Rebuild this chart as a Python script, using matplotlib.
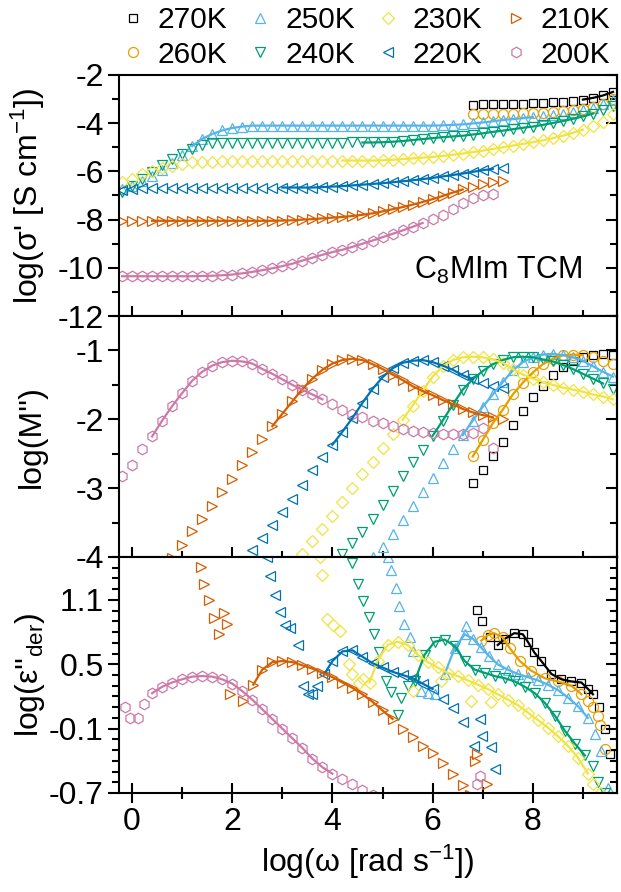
import numpy as np
import matplotlib
matplotlib.use("Agg")
import matplotlib.pyplot as plt
from matplotlib.ticker import MultipleLocator, FixedLocator
from matplotlib.lines import Line2D

plt.rcParams['font.family'] = ['Liberation Sans', 'DejaVu Sans']
plt.rcParams['mathtext.fontset'] = 'custom'
plt.rcParams['mathtext.rm'] = 'Liberation Sans'
plt.rcParams['mathtext.it'] = 'Liberation Sans:italic'
plt.rcParams['axes.unicode_minus'] = False

temps = ['270K', '260K', '250K', '240K', '230K', '220K', '210K', '200K']
colors = ['#000000', '#E69F00', '#56B4E9', '#009E73', '#F0E442', '#0072B2', '#D55E00', '#CC79A7']
markers = ['s', 'o', '^', 'v', 'D', '<', '>', 'h']
msizes = [6.0, 7.2, 7.4, 7.4, 6.6, 7.4, 7.4, 7.6]

# common log(omega) grid of the measurement
GRID = [-0.2, 0.0, 0.2, 0.4, 0.6, 0.8, 1.0, 1.2, 1.4, 1.6,
        1.8, 2.0, 2.2, 2.4, 2.6, 2.8, 3.0, 3.2, 3.4, 3.6,
        3.8, 4.0, 4.2, 4.4, 4.6, 4.8, 5.0, 5.2, 5.4, 5.6,
        5.8, 6.0, 6.2, 6.4, 6.6, 6.8, 7.0, 7.2, 7.4, 7.6,
        7.8, 8.0, 8.2, 8.4, 8.6, 8.8, 9.0, 9.2, 9.4, 9.6]

# ---- conductivity log(sigma') : (start on grid, values)
sig_270 = (6.8, [-3.23, -3.22, -3.21, -3.2, -3.2, -3.19, -3.18, -3.16, -3.13, -3.1, -3.06, -3.02, -2.95, -2.85, -2.7])
sig_260 = (6.8, [-3.62, -3.62, -3.61, -3.61, -3.6, -3.59, -3.58, -3.56, -3.53, -3.49, -3.45, -3.4, -3.32, -3.2, -3.0])
sig_250 = (-0.2, [-6.75, -6.6, -6.4, -6.18, -5.95, -5.65, -5.3, -4.95, -4.65, -4.45,
                  -4.3, -4.2, -4.14, -4.1, -4.1, -4.1, -4.1, -4.1, -4.1, -4.1,
                  -4.1, -4.1, -4.1, -4.1, -4.1, -4.1, -4.1, -4.1, -4.1, -4.1,
                  -4.1, -4.1, -4.09, -4.07, -4.05, -4.01, -3.97, -3.92, -3.87, -3.83,
                  -3.79, -3.75, -3.71, -3.66, -3.6, -3.53, -3.45, -3.35, -3.22, -3.05])
sig_240 = (-0.2, [-6.87, -6.6, -6.3, -6.02, -5.75, -5.5, -5.27, -5.05, -4.9, -4.82,
                  -4.82, -4.83, -4.83, -4.83, -4.83, -4.83, -4.83, -4.83, -4.83, -4.83,
                  -4.83, -4.82, -4.81, -4.8, -4.8, -4.8, -4.79, -4.77, -4.74, -4.7,
                  -4.66, -4.62, -4.58, -4.55, -4.52, -4.47, -4.42, -4.36, -4.31, -4.25,
                  -4.19, -4.14, -4.07, -3.99, -3.91, -3.82, -3.72, -3.6, -3.47, -3.3])
sig_230 = (-0.2, [-6.45, -6.3, -6.12, -5.98, -5.86, -5.76, -5.68, -5.63, -5.6, -5.59,
                  -5.58, -5.57, -5.57, -5.57, -5.57, -5.57, -5.57, -5.57, -5.57, -5.57,
                  -5.56, -5.55, -5.55, -5.55, -5.55, -5.55, -5.54, -5.52, -5.49, -5.46,
                  -5.43, -5.4, -5.36, -5.31, -5.26, -5.2, -5.14, -5.07, -5.0, -4.93,
                  -4.86, -4.79, -4.71, -4.62, -4.52, -4.4, -4.27, -4.12, -3.93, -3.6])
sig_220 = (-0.2, [-6.78, -6.72, -6.68, -6.67, -6.67, -6.67, -6.67, -6.67, -6.67, -6.67,
                  -6.67, -6.67, -6.67, -6.67, -6.67, -6.67, -6.67, -6.67, -6.67, -6.67,
                  -6.65, -6.63, -6.61, -6.58, -6.55, -6.52, -6.49, -6.45, -6.41, -6.37,
                  -6.32, -6.27, -6.21, -6.15, -6.09, -6.02, -5.95, -5.9, -5.86])
sig_210 = (-0.2, [-8.06, -8.06, -8.05, -8.05, -8.05, -8.05, -8.05, -8.05, -8.05, -8.05,
                  -8.05, -8.05, -8.05, -8.05, -8.05, -8.05, -8.04, -8.03, -8.0, -7.98,
                  -7.95, -7.92, -7.89, -7.85, -7.8, -7.74, -7.66, -7.57, -7.48, -7.38,
                  -7.27, -7.15, -7.02, -6.88, -6.75, -6.63, -6.52, -6.44, -6.38])
sig_200 = (-0.2, [-10.35, -10.35, -10.35, -10.35, -10.35, -10.35, -10.35, -10.35, -10.34, -10.33,
                  -10.31, -10.28, -10.23, -10.17, -10.1, -10.02, -9.93, -9.83, -9.7, -9.58,
                  -9.46, -9.35, -9.25, -9.13, -9.0, -8.87, -8.73, -8.59, -8.45, -8.3,
                  -8.14, -7.98, -7.8, -7.55, -7.33, -7.12, -6.98, -6.93])
sigma = [sig_270, sig_260, sig_250, sig_240, sig_230, sig_220, sig_210, sig_200]
sig_fit = [(9.0, 9.6), None, (1.2, 8.0), (4.6, 9.2), (4.2, 9.0), (3.0, 7.2), (0.4, 6.6), (-0.2, 5.8)]

# ---- modulus log(M'')
mod_270 = (6.8, [-2.93, -2.74, -2.53, -2.33, -2.09, -1.88, -1.68, -1.51, -1.36, -1.24, -1.15, -1.09, -1.06, -1.05, -1.06])
mod_260 = (6.8, [-2.54, -2.3, -2.06, -1.86, -1.64, -1.47, -1.32, -1.2, -1.12, -1.07, -1.06, -1.07, -1.1, -1.15, -1.2])
mod_250 = (4.8, [-4.0, -3.85, -3.66, -3.46, -3.26, -3.06, -2.85, -2.64, -2.43, -2.23,
                 -2.02, -1.82, -1.64, -1.46, -1.29, -1.17, -1.1, -1.06, -1.05, -1.07,
                 -1.1, -1.15, -1.23, -1.31, -1.38])
mod_240 = (4.2, [-3.95, -3.8, -3.64, -3.45, -3.25, -3.04, -2.82, -2.62, -2.44, -2.24,
                 -2.02, -1.79, -1.57, -1.42, -1.3, -1.2, -1.14, -1.1, -1.09, -1.1,
                 -1.13, -1.16, -1.21, -1.27, -1.34, -1.41, -1.48, -1.56])
mod_230 = (3.2, [-4.12, -3.95, -3.77, -3.59, -3.4, -3.2, -3.0, -2.8, -2.62, -2.42,
                 -2.21, -2.01, -1.8, -1.59, -1.38, -1.23, -1.14, -1.1, -1.09, -1.1,
                 -1.13, -1.18, -1.27, -1.35, -1.41, -1.46, -1.5, -1.54, -1.57, -1.6,
                 -1.64, -1.67, -1.71])
mod_220 = (2.2, [-4.08, -3.9, -3.72, -3.53, -3.35, -3.16, -2.96, -2.74, -2.55, -2.37,
                 -2.18, -1.98, -1.76, -1.56, -1.39, -1.26, -1.18, -1.15, -1.14, -1.17,
                 -1.22, -1.28, -1.36, -1.42, -1.47, -1.52, -1.55])
mod_210 = (0.8, [-4.02, -3.83, -3.62, -3.45, -3.26, -3.06, -2.86, -2.66, -2.47, -2.28,
                 -2.1, -1.92, -1.74, -1.56, -1.41, -1.28, -1.19, -1.14, -1.12, -1.14,
                 -1.2, -1.27, -1.35, -1.43, -1.52, -1.59, -1.65, -1.72, -1.78, -1.85,
                 -1.9, -1.94, -1.97, -1.99])
mod_200 = (-0.2, [-2.83, -2.66, -2.43, -2.25, -2.02, -1.81, -1.62, -1.44, -1.31, -1.22,
                  -1.17, -1.15, -1.16, -1.19, -1.27, -1.34, -1.42, -1.5, -1.57, -1.64,
                  -1.71, -1.78, -1.86, -1.92, -1.96, -2.02, -2.06, -2.1, -2.14, -2.17,
                  -2.19, -2.2, -2.21, -2.22, -2.22, -2.2, -2.13, -2.42])
modulus = [mod_270, mod_260, mod_250, mod_240, mod_230, mod_220, mod_210, mod_200]
mod_fit = [None, (6.8, 9.0), (6.6, 9.6), (6.0, 9.4), (5.4, 9.6), (4.0, 6.8), (2.8, 7.2), (0.4, 3.8)]

# ---- derivative loss log(eps''_der): main relaxation curve
der_x_270 = [6.89, 6.99, 7.15, 7.3, 7.45, 7.63, 7.8, 7.9, 8.03, 8.17, 8.37, 8.57, 8.77, 8.97, 9.1, 9.2, 9.33, 9.44, 9.54]
der_y_270 = [1.01, 0.9, 0.75, 0.68, 0.74, 0.79, 0.78, 0.71, 0.61, 0.53, 0.41, 0.36, 0.34, 0.33, 0.27, 0.22, 0.1, -0.1, -0.34]
der_x_260 = [6.97, 7.1, 7.23, 7.4, 7.54, 7.74, 7.97, 8.24, 8.5, 8.77, 8.97, 9.1, 9.2, 9.3, 9.34, 9.44]
der_y_260 = [0.72, 0.77, 0.79, 0.75, 0.65, 0.53, 0.44, 0.37, 0.34, 0.3, 0.22, 0.16, 0.1, 0.02, -0.07, -0.29]
der_x_250 = [6.24, 6.44, 6.64, 6.8, 6.96, 7.12, 7.3, 7.5, 7.7, 7.9, 8.1, 8.3, 8.5, 8.7, 8.9, 9.1, 9.24, 9.37, 9.5]
der_y_250 = [0.41, 0.65, 0.78, 0.74, 0.66, 0.58, 0.5, 0.45, 0.41, 0.38, 0.35, 0.31, 0.26, 0.19, 0.11, 0.0, -0.15, -0.31, -0.65]
der_x_240 = [5.64, 5.84, 6.04, 6.24, 6.44, 6.64, 6.84, 7.04, 7.24, 7.44, 7.64, 7.84, 8.04, 8.24, 8.44, 8.64, 8.84, 9.04, 9.2, 9.3, 9.45]
der_y_240 = [0.34, 0.59, 0.71, 0.73, 0.67, 0.53, 0.45, 0.42, 0.39, 0.37, 0.34, 0.29, 0.23, 0.14, 0.02, -0.12, -0.24, -0.35, -0.45, -0.6, -0.7]
der_x_230 = [4.74, 4.9, 5.1, 5.3, 5.5, 5.7, 5.9, 6.1, 6.3, 6.5, 6.7, 6.9, 7.1, 7.3, 7.5, 7.7, 7.9, 8.1, 8.3, 8.5, 8.7, 8.9, 9.1, 9.2, 9.35]
der_y_230 = [0.33, 0.53, 0.68, 0.71, 0.68, 0.59, 0.52, 0.47, 0.42, 0.39, 0.35, 0.31, 0.27, 0.22, 0.17, 0.12, 0.05, -0.02, -0.09, -0.17, -0.26, -0.37, -0.52, -0.62, -0.7]
der_x_220 = [3.84, 4.0, 4.2, 4.4, 4.6, 4.8, 5.0, 5.2, 5.4, 5.6, 5.8, 6.0, 6.2, 6.4, 6.6]
der_y_220 = [0.41, 0.53, 0.62, 0.63, 0.57, 0.51, 0.47, 0.43, 0.4, 0.37, 0.32, 0.27, 0.18, 0.09, -0.04]
der_x_210 = [2.42, 2.6, 2.8, 3.0, 3.2, 3.4, 3.6, 3.8, 4.0, 4.2, 4.4, 4.6, 4.8, 5.0, 5.2, 5.4, 5.6, 5.8, 6.0, 6.2, 6.4, 6.6, 6.75]
der_y_210 = [0.31, 0.45, 0.52, 0.53, 0.52, 0.49, 0.46, 0.42, 0.38, 0.33, 0.28, 0.22, 0.15, 0.07, -0.01, -0.1, -0.18, -0.26, -0.33, -0.42, -0.52, -0.63, -0.72]
der_x_200 = [0.4, 0.6, 0.8, 1.0, 1.2, 1.4, 1.6, 1.8, 2.0, 2.2, 2.4, 2.6, 2.8, 3.0, 3.2, 3.4, 3.6, 3.8, 4.0, 4.2, 4.4, 4.6, 4.8]
der_y_200 = [0.23, 0.29, 0.33, 0.36, 0.385, 0.39, 0.385, 0.36, 0.32, 0.25, 0.17, 0.08, -0.01, -0.1, -0.19, -0.28, -0.38, -0.46, -0.52, -0.57, -0.62, -0.67, -0.72]
# scattered points off the main curve (electrode / conductivity region)
sc_x_270, sc_y_270 = [], []
sc_x_260, sc_y_260 = [], []
sc_x_250 = [5.1, 5.17, 5.27, 5.33, 5.43, 5.54, 5.6, 5.77, 5.9, 6.05, 6.67]
sc_y_250 = [1.5, 1.38, 1.21, 1.04, 0.88, 0.75, 0.62, 0.25, 0.23, 0.22, 0.86]
sc_x_240 = [4.4, 4.51, 4.61, 4.72, 4.82, 4.92, 5.07, 5.17, 5.3, 5.37, 5.5]
sc_y_240 = [1.44, 1.25, 1.09, 0.94, 0.78, 0.61, 0.34, 0.24, 0.03, 0.19, 0.3]
sc_x_230 = [3.75, 3.79, 3.89, 4.02, 4.15, 4.34, 4.4, 4.54, 4.62, 5.6, 6.17, 6.77, 7.17]
sc_y_230 = [1.5, 1.33, 0.92, 0.87, 0.81, 0.5, 0.41, 0.33, 0.36, 0.25, 0.34, 0.16, 0.15]
sc_x_220 = [2.7, 2.76, 2.86, 2.96, 3.06, 3.16, 3.31, 3.41, 3.51, 3.6, 3.7, 6.95, 6.99, 6.82, 7.16, 7.24]
sc_y_220 = [1.5, 1.32, 1.15, 0.99, 0.87, 0.84, 0.68, 0.3, 0.22, 0.22, 0.3, -0.01, -0.17, -0.26, -0.27, -0.48]
sc_x_210 = [1.37, 1.43, 1.53, 1.63, 1.83, 1.9, 1.73, 1.96, 2.22, 6.85, 6.89, 7.08]
sc_y_210 = [1.41, 1.25, 1.1, 0.93, 0.98, 0.88, 0.78, 0.22, 0.16, -0.4, -0.34, -0.62]
sc_x_200 = [-0.14, -0.04, 0.12, 0.23, 6.89, 6.95]
sc_y_200 = [0.1, 0.0, 0.0, 0.13, -0.62, -0.54]

der_x = [der_x_270, der_x_260, der_x_250, der_x_240, der_x_230, der_x_220, der_x_210, der_x_200]
der_y = [der_y_270, der_y_260, der_y_250, der_y_240, der_y_230, der_y_220, der_y_210, der_y_200]
sc_x = [sc_x_270, sc_x_260, sc_x_250, sc_x_240, sc_x_230, sc_x_220, sc_x_210, sc_x_200]
sc_y = [sc_y_270, sc_y_260, sc_y_250, sc_y_240, sc_y_230, sc_y_220, sc_y_210, sc_y_200]
der_fit = [(7.3, 9.2), (6.97, 9.0), (6.24, 9.1), (5.64, 9.1), (4.74, 9.1), (3.84, 6.0), (2.42, 5.2), (0.4, 4.0)]


def on_grid(series):
    start, vals = series
    i0 = GRID.index(start)
    return np.array(GRID[i0:i0 + len(vals)]), np.array(vals)


def draw(ax, x, y, k, fit):
    x, y = np.asarray(x, float), np.asarray(y, float)
    ax.plot(x, y, ls='none', marker=markers[k], ms=msizes[k], mfc='none', mec=colors[k], mew=0.9, zorder=2)
    if fit is not None:
        m = (x >= fit[0] - 1e-6) & (x <= fit[1] + 1e-6)
        ax.plot(x[m], y[m], '-', color=colors[k], lw=1.6, zorder=3)


fig = plt.figure(figsize=(6.21, 8.92), dpi=100)
L, W = 119 / 621, 498 / 621
ax1 = fig.add_axes([L, 1 - 316 / 892, W, 241 / 892])
ax2 = fig.add_axes([L, 1 - 557 / 892, W, 241 / 892])
ax3 = fig.add_axes([L, 1 - 793 / 892, W, 236 / 892])

for k in range(8):
    x, y = on_grid(sigma[k])
    draw(ax1, x, y, k, sig_fit[k])
    x, y = on_grid(modulus[k])
    draw(ax2, x, y, k, mod_fit[k])
    draw(ax3, der_x[k], der_y[k], k, der_fit[k])
    if sc_x[k]:
        draw(ax3, sc_x[k], sc_y[k], k, None)

ax1.set_ylim(-12, -2)
ax1.yaxis.set_major_locator(MultipleLocator(2))
ax1.yaxis.set_minor_locator(MultipleLocator(1))
ax2.set_ylim(-4, -0.5)
ax2.yaxis.set_major_locator(FixedLocator([-4, -3, -2, -1]))
ax2.yaxis.set_minor_locator(FixedLocator([-3.5, -2.5, -1.5, -0.5]))
ax3.set_ylim(-0.7, 1.5)
ax3.yaxis.set_major_locator(FixedLocator([-0.7, -0.1, 0.5, 1.1]))
ax3.yaxis.set_minor_locator(FixedLocator([round(-0.7 + 0.1 * i, 1) for i in range(23)]))

FS = 23
for ax in (ax1, ax2, ax3):
    ax.set_xlim(-0.26, 9.68)
    ax.xaxis.set_major_locator(MultipleLocator(2))
    ax.xaxis.set_minor_locator(MultipleLocator(1))
    for s in ax.spines.values():
        s.set_linewidth(1.5)
    ax.tick_params(axis='x', which='major', direction='inout', length=14, width=1.5, labelsize=FS, pad=3)
    ax.tick_params(axis='x', which='minor', direction='inout', length=8, width=1.5)
    ax.tick_params(axis='y', which='major', direction='out', length=8, width=1.5, labelsize=FS, pad=3)
    ax.tick_params(axis='y', which='minor', direction='out', length=5, width=1.5)
    sec = ax.secondary_yaxis('right')
    sec.yaxis.set_major_locator(ax.yaxis.get_major_locator())
    sec.yaxis.set_minor_locator(ax.yaxis.get_minor_locator())
    sec.tick_params(which='major', direction='in', length=8, width=1.5, labelright=False)
    sec.tick_params(which='minor', direction='in', length=5, width=1.5)
    sec.spines['right'].set_linewidth(1.5)
    ax.yaxis.set_label_coords(-0.145, 0.5)

ax1.tick_params(axis='x', labelbottom=False)
ax2.tick_params(axis='x', labelbottom=False)

ax1.set_ylabel("log(σ' [S cm$^{-1}$])", fontsize=FS)
ax2.set_ylabel("log(M'')", fontsize=FS)
ax3.set_ylabel("log(ε''$_{\\mathregular{der}}$)", fontsize=FS)
ax3.set_xlabel("log(ω [rad s$^{-1}$])", fontsize=FS, labelpad=4)
ax1.text(5.62, -10.1, "C$_8$MIm TCM", fontsize=22, va='center', ha='left')

handles = [Line2D([], [], ls='none', marker=markers[k], ms=msizes[k], mfc='none', mec=colors[k], mew=0.9)
           for k in range(8)]
fig.legend(handles, temps, ncol=4, loc='upper left', bbox_to_anchor=(0.197, 0.993), frameon=False,
           fontsize=21.5, handlelength=0.7, handletextpad=0.48, columnspacing=0.76,
           labelspacing=0.22, borderaxespad=0, borderpad=0)

fig.savefig("out.png", dpi=100)
